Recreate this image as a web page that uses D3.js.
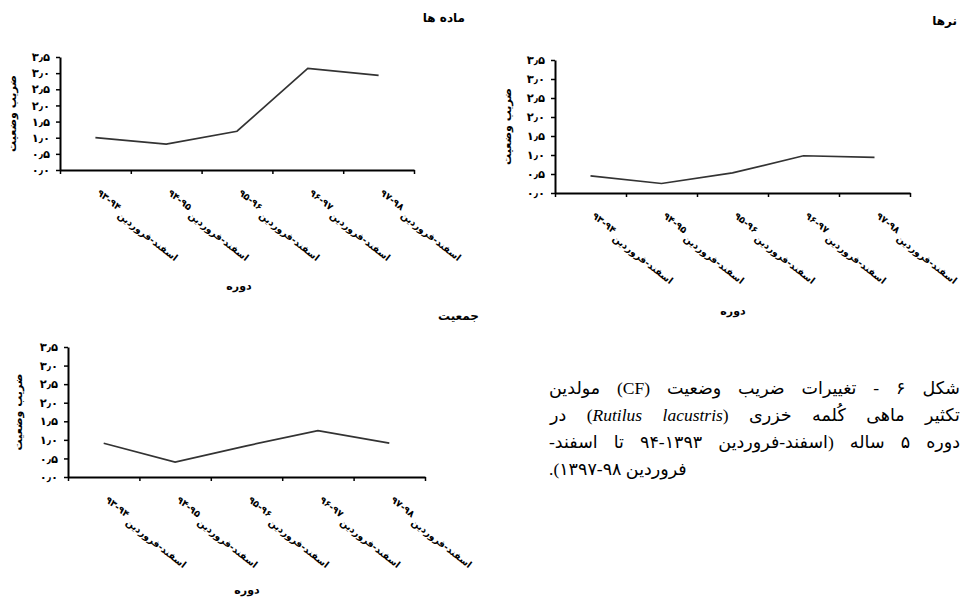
<!DOCTYPE html>
<html>
<head>
<meta charset="utf-8">
<script src="https://cdn.jsdelivr.net/npm/d3@7"></script>
<style>
    body { margin: 0; background: #fff; overflow: hidden; }
    svg { display: block; }
    .lbl { font-family: "DejaVu Sans", sans-serif; font-weight: bold; fill: #000; }
</style>
</head>
<body>
<svg id="chart" width="963" height="598"></svg>
<script>
// ---------------------------  DATA  ---------------------------
const periods = ["۹۳-۹۴", "۹۴-۹۵", "۹۵-۹۶", "۹۶-۹۷", "۹۷-۹۸"];
const monthLabel = "اسفند-فروردین";

const femaleCF = [1.00, 0.80, 1.20, 3.15, 2.93];   // ماده ها
const maleCF   = [0.45, 0.25, 0.53, 0.98, 0.94];   // نرها
const totalCF  = [0.91, 0.40, 0.84, 1.25, 0.91];   // جمعیت

const yTicks      = [0, 0.5, 1, 1.5, 2, 2.5, 3, 3.5];
const yTickLabels = ["۰٫۰", "۰٫۵", "۱٫۰", "۱٫۵", "۲٫۰", "۲٫۵", "۳٫۰", "۳٫۵"];

const yTitle = "ضریب وضعیت";
const xTitle = "دوره";

const captionLines = [
    [{t: "شکل ۶ - تغییرات ضریب وضعیت (CF) مولدین"}],
    [{t: "تکثیر ماهی کُلمه خزری ("}, {t: "Rutilus lacustris", it: true}, {t: ") در"}],
    [{t: "دوره ۵ ساله (اسفند-فروردین ۱۳۹۳-۹۴ تا اسفند-"}],
    [{t: "فروردین ۹۸-۱۳۹۷)."}]
];

// ---------------------------  LAYOUT  ---------------------------
const panels = [
    {title: "ماده ها", values: femaleCF, x0: 60,  x1: 414, yTop: 57,  yBot: 170,
     titleX: 465, titleY: 22,  yTitleX: 16,  xTitleX: 239, xTitleY: 290},
    {title: "نرها",    values: maleCF,   x0: 555, x1: 910, yTop: 60,  yBot: 193,
     titleX: 957, titleY: 25,  yTitleX: 511, xTitleX: 733, xTitleY: 315},
    {title: "جمعیت",   values: totalCF,  x0: 68,  x1: 425, yTop: 347, yBot: 477,
     titleX: 479, titleY: 320, yTitleX: 22,  xTitleX: 247, xTitleY: 594}
];

const svg = d3.select("#chart");

function drawPanel(p)
{
    const g = svg.append("g");

    const x = d3.scaleBand().domain(periods).range([p.x0, p.x1]);
    const xEdge = d3.scaleLinear().domain([0, periods.length]).range([p.x0, p.x1]);
    const y = d3.scaleLinear().domain([0, 3.5]).range([p.yBot, p.yTop]);

    // y axis
    const ya = g.append("g")
        .attr("transform", `translate(${p.x0},0)`)
        .call(d3.axisLeft(y)
            .tickValues(yTicks)
            .tickFormat((d, i) => yTickLabels[i])
            .tickSize(4).tickSizeOuter(0).tickPadding(6));

    // x axis, ticks between categories
    g.append("g")
        .attr("transform", `translate(0,${p.yBot})`)
        .call(d3.axisBottom(xEdge)
            .tickValues(d3.range(periods.length + 1))
            .tickFormat("")
            .tickSize(4).tickSizeOuter(0));

    g.selectAll(".domain").attr("stroke", "#000").attr("stroke-width", 2);
    g.selectAll(".tick line").attr("stroke", "#000").attr("stroke-width", 1.5);
    ya.selectAll("text")
        .attr("class", "lbl")
        .attr("font-size", 11.5);

    // category labels, rotated
    const labels = g.append("g").selectAll("text")
        .data(periods)
        .join("text")
        .attr("class", "lbl")
        .attr("font-size", 9.5)
        .attr("transform", d => `translate(${x(d) + x.bandwidth() / 2 + 1},${p.yBot + 24}) rotate(38)`);
    labels.append("tspan").attr("x", 0).attr("y", 0).text(d => d);
    labels.append("tspan").attr("x", 30).attr("y", 5).text(monthLabel);

    // data line
    const line = d3.line()
        .x((d, i) => x(periods[i]) + x.bandwidth() / 2)
        .y(d => y(d));
    g.append("path")
        .datum(p.values)
        .attr("d", line)
        .attr("fill", "none")
        .attr("stroke", "#333")
        .attr("stroke-width", 1.7);

    // titles
    g.append("text").attr("class", "lbl")
        .attr("x", p.titleX).attr("y", p.titleY)
        .attr("text-anchor", "end").attr("font-size", 12)
        .text(p.title);

    g.append("text").attr("class", "lbl")
        .attr("font-size", 11)
        .attr("text-anchor", "middle")
        .attr("transform", `translate(${p.yTitleX},${(p.yTop + p.yBot) / 2}) rotate(-90)`)
        .text(yTitle);

    g.append("text").attr("class", "lbl")
        .attr("x", p.xTitleX).attr("y", p.xTitleY)
        .attr("text-anchor", "middle").attr("font-size", 11)
        .text(xTitle);
}

panels.forEach(drawPanel);

// ---------------------------  CAPTION  ---------------------------
const capLeft = 549, capRight = 960, capBase = 394, capLead = 27;
const cap = svg.append("g");

captionLines.forEach((segs, i) => {
    const t = cap.append("text")
        .attr("direction", "rtl")
        .attr("x", 0)
        .attr("y", capBase + i * capLead)
        .attr("font-size", 17.5)
        .attr("font-family", "'Liberation Serif', 'DejaVu Sans', serif")
        .attr("fill", "#000");
    segs.forEach(s => t.append("tspan")
        .attr("font-style", s.it ? "italic" : null)
        .text(s.t));

    if (i < captionLines.length - 1) {
        // spread the full lines across the column
        const w0 = t.node().getBBox().width;
        const spaces = segs.map(s => s.t).join("").split(" ").length - 1;
        t.attr("word-spacing", Math.max(0, (capRight - capLeft - w0) / spaces));
    }
    const bb = t.node().getBBox();
    t.attr("transform", `translate(${capLeft - bb.x},0)`);
});
</script>
</body>
</html>
